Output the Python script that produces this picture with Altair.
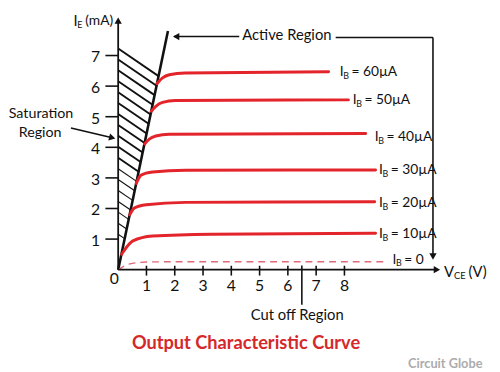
import altair as alt
import pandas as pd

# ---------------- data ----------------
x_ticks = [1, 2, 3, 4, 5, 6, 7, 8]
y_ticks = [1, 2, 3, 4, 5, 6, 7]

# output characteristic curves: V_CE (V) vs I_E (mA)
ib0_v = [0.0, 0.41, 0.99, 2.0, 9.39]
ib0_i = [0.0, 0.19, 0.25, 0.26, 0.26]
ib10_v = [0.12, 0.17, 0.52, 1.22, 3.3, 9.1]
ib10_i = [0.50, 0.57, 0.94, 1.10, 1.16, 1.19]
ib20_v = [0.41, 0.58, 0.99, 2.38, 9.07]
ib20_i = [1.80, 2.02, 2.12, 2.20, 2.22]
ib30_v = [0.64, 0.81, 1.22, 2.38, 9.1]
ib30_i = [2.82, 3.09, 3.19, 3.25, 3.26]
ib40_v = [0.93, 1.10, 1.33, 1.80, 8.75]
ib40_i = [4.11, 4.27, 4.37, 4.43, 4.45]
ib50_v = [1.17, 1.33, 1.57, 2.02, 8.14]
ib50_i = [5.18, 5.34, 5.47, 5.53, 5.55]
ib60_v = [1.37, 1.57, 1.81, 2.37, 7.44]
ib60_i = [6.08, 6.27, 6.37, 6.43, 6.47]

ib_label_text = ["= 60µA", "= 50µA", "= 40µA", "= 30µA", "= 20µA", "= 10µA", "= 0"]
ib_label_v = [7.83, 8.29, 9.07, 9.22, 9.22, 9.22, 9.70]
ib_label_i = [6.46, 5.54, 4.32, 3.25, 2.18, 1.16, 0.33]

# saturation boundary line (from origin to its top end)
sat_top_v = 1.76
sat_top_i = 7.80
# hatch lines: start values on the I_E axis, slope of hatching
hatch_i0 = [7.23, 6.87, 6.52, 6.16, 5.80, 5.45, 5.09, 4.73, 4.38, 4.02,
            3.66, 3.30, 2.95, 2.59, 2.23, 1.88, 1.52, 1.16]
hatch_slope = -0.633

# ---------------- scales (plot spans the full picture) ----------------
XS = alt.Scale(domain=[-3.8957, 13.2174], nice=False, zero=False)
YS = alt.Scale(domain=[-3.2476, 8.4566], nice=False, zero=False)


def X(f):
    return alt.X(f, type="quantitative", scale=XS, axis=None)


def Y(f):
    return alt.Y(f, type="quantitative", scale=YS, axis=None)


FONT = "Lato"
BLACK = "#111111"
RED = "#e3242b"

# ---------------- curves ----------------
rows = []
for name, vs, is_ in [("10", ib10_v, ib10_i), ("20", ib20_v, ib20_i),
                      ("30", ib30_v, ib30_i), ("40", ib40_v, ib40_i),
                      ("50", ib50_v, ib50_i), ("60", ib60_v, ib60_i)]:
    for k, (a, b) in enumerate(zip(vs, is_)):
        rows.append({"s": name, "v": a, "i": b, "o": k})
curves_df = pd.DataFrame(rows)
curves = alt.Chart(curves_df).mark_line(
    color=RED, strokeWidth=3, interpolate="monotone", strokeCap="round"
).encode(x=X("v"), y=Y("i"), detail="s:N", order="o:Q")

ib0_df = pd.DataFrame({"v": ib0_v, "i": ib0_i, "o": range(len(ib0_v))})
ib0 = alt.Chart(ib0_df).mark_line(
    color="#e06a78", strokeWidth=1.4, strokeDash=[7, 5], interpolate="monotone"
).encode(x=X("v"), y=Y("i"), order="o:Q")

# ---------------- saturation region ----------------
sat_slope = sat_top_i / sat_top_v
hatch_rows = []
for h in hatch_i0:
    ve = h / (sat_slope - hatch_slope)
    hatch_rows.append({"x": 0.0, "y": h, "x2": ve, "y2": sat_slope * ve,
                       "w": 1.9 if h > 3.4 else 1.1})
hatch_df = pd.DataFrame(hatch_rows)
hatch = alt.Chart(hatch_df).mark_rule(color=BLACK).encode(
    x=X("x"), y=Y("y"), x2="x2:Q", y2="y2:Q",
    strokeWidth=alt.StrokeWidth("w:Q", scale=None))

sat_df = pd.DataFrame({"x": [0.0], "y": [0.0], "x2": [sat_top_v], "y2": [sat_top_i]})
sat_line = alt.Chart(sat_df).mark_rule(color=BLACK, strokeWidth=2.6).encode(
    x=X("x"), y=Y("y"), x2="x2:Q", y2="y2:Q")

# ---------------- axes (drawn by hand) ----------------
axes_df = pd.DataFrame({
    "x": [0.0, 0.0], "y": [0.0, 0.0],
    "x2": [11.25, 0.0], "y2": [0.0, 8.12]})
axes = alt.Chart(axes_df).mark_rule(color=BLACK, strokeWidth=1.8).encode(
    x=X("x"), y=Y("y"), x2="x2:Q", y2="y2:Q")

yt_df = pd.DataFrame({"t": y_ticks})
ytick = alt.Chart(yt_df).mark_rule(color=BLACK, strokeWidth=1.6).encode(
    x=alt.value(99), x2=alt.value(112), y=Y("t"))
ytxt = alt.Chart(yt_df).mark_text(
    font=FONT, fontSize=16, color=BLACK, align="center", baseline="middle", dy=2
).encode(x=alt.value(89), y=Y("t"), text="t:Q")

xt_df = pd.DataFrame({"t": x_ticks})
xtick = alt.Chart(xt_df).mark_rule(color=BLACK, strokeWidth=1.6).encode(
    x=X("t"), y=alt.value(259), y2=alt.value(269))
xtxt = alt.Chart(xt_df).mark_text(
    font=FONT, fontSize=16, color=BLACK, align="center", baseline="middle"
).encode(x=X("t"), y=alt.value(280), text="t:Q")

zero_df = pd.DataFrame({"v": [-0.139], "i": [-0.32], "t": ["0"]})
zero = alt.Chart(zero_df).mark_text(
    font=FONT, fontSize=16, color=BLACK, align="center", baseline="middle"
).encode(x=X("v"), y=Y("i"), text="t:N")

# ---------------- arrows ----------------
arrow_df = pd.DataFrame({
    "x": [1.98, 7.69, 11.13, -1.67, 6.494],
    "y": [7.62, 7.588, 7.588, 4.63, 0.138],
    "x2": [4.28, 11.13, 11.13, -0.21, 6.494],
    "y2": [7.62, 7.588, 0.48, 4.31, -1.148]})
arrows = alt.Chart(arrow_df).mark_rule(color=BLACK, strokeWidth=1.6).encode(
    x=X("x"), y=Y("y"), x2="x2:Q", y2="y2:Q")

heads_df = pd.DataFrame({
    "v": [11.27, 0.0, 2.05, 11.13, -0.21],
    "i": [0.0, 8.14, 7.62, 0.43, 4.31],
    "shape": ["triangle-right", "triangle-up", "triangle-left",
              "triangle-down", "triangle-right"],
    "a": [0, 0, 0, 0, 14]})
heads = alt.Chart(heads_df).mark_point(
    filled=True, color=BLACK, opacity=1, size=55, strokeWidth=0
).encode(x=X("v"), y=Y("i"),
         shape=alt.Shape("shape:N", scale=None),
         angle=alt.Angle("a:Q", scale=None))

# ---------------- texts ----------------
def text_layer(df, **kw):
    base = dict(font=FONT, color=BLACK, baseline="middle")
    base.update(kw)
    return alt.Chart(df).mark_text(**base).encode(x=X("v"), y=Y("i"), text="t:N")


ann_df = pd.DataFrame({
    "t": ["Active Region", "Cut off Region"],
    "v": [5.965, 6.33],
    "i": [7.66, -1.48]})
ann = text_layer(ann_df, fontSize=15, align="center")

sat_txt_df = pd.DataFrame({
    "t": ["Saturation", "Region"],
    "v": [-2.73, -2.76],
    "i": [5.08, 4.48]})
sat_txt = text_layer(sat_txt_df, fontSize=14.5, align="center")

ib_df = pd.DataFrame({"t": ib_label_text, "v": ib_label_v, "i": ib_label_i})
ib_I = text_layer(ib_df.assign(t="I"), fontSize=14, align="left")
ib_B = text_layer(ib_df.assign(t="B"), fontSize=9, align="left", dx=3.6, dy=4)
ib_rest = text_layer(ib_df, fontSize=14, align="left", dx=12)

yl_df = pd.DataFrame({"t": ["I"], "v": [-1.58], "i": [8.12]})
y_I = text_layer(yl_df, fontSize=15, align="left")
y_E = text_layer(yl_df.assign(t="E"), fontSize=9, align="left", dx=3.8, dy=4)
y_mA = text_layer(yl_df.assign(t="(mA)"), fontSize=14, align="left", dx=12)

xl_df = pd.DataFrame({"t": ["V"], "v": [11.52], "i": [-0.09]})
x_V = text_layer(xl_df, fontSize=15, align="left")
x_CE = text_layer(xl_df.assign(t="CE"), fontSize=9.5, align="left", dx=10.2, dy=3.5)
x_unit = text_layer(xl_df.assign(t="(V)"), fontSize=15, align="left", dx=25)

title_df = pd.DataFrame({"t": ["Output Characteristic Curve"], "v": [4.52], "i": [-2.40]})
title = text_layer(title_df, fontSize=18.5, fontWeight="bold", color="#d5282a", align="center")

brand_df = pd.DataFrame({"t": ["Circuit Globe"], "v": [11.565], "i": [-3.10]})
brand = text_layer(brand_df, fontSize=13, fontWeight="bold", color="#acacac", align="center")

chart = alt.layer(
    hatch, sat_line, ib0, curves, axes, ytick, xtick, arrows, heads,
    ytxt, xtxt, zero, ann, sat_txt, ib_I, ib_B, ib_rest, y_I, y_E, y_mA,
    x_V, x_CE, x_unit, title, brand
).properties(
    width=492, height=364,
    autosize=alt.AutoSizeParams(type="none"),
    padding=0, background="white"
).configure_view(stroke=None)

chart.save("out.html", embed_options={"renderer": "svg", "actions": False})
